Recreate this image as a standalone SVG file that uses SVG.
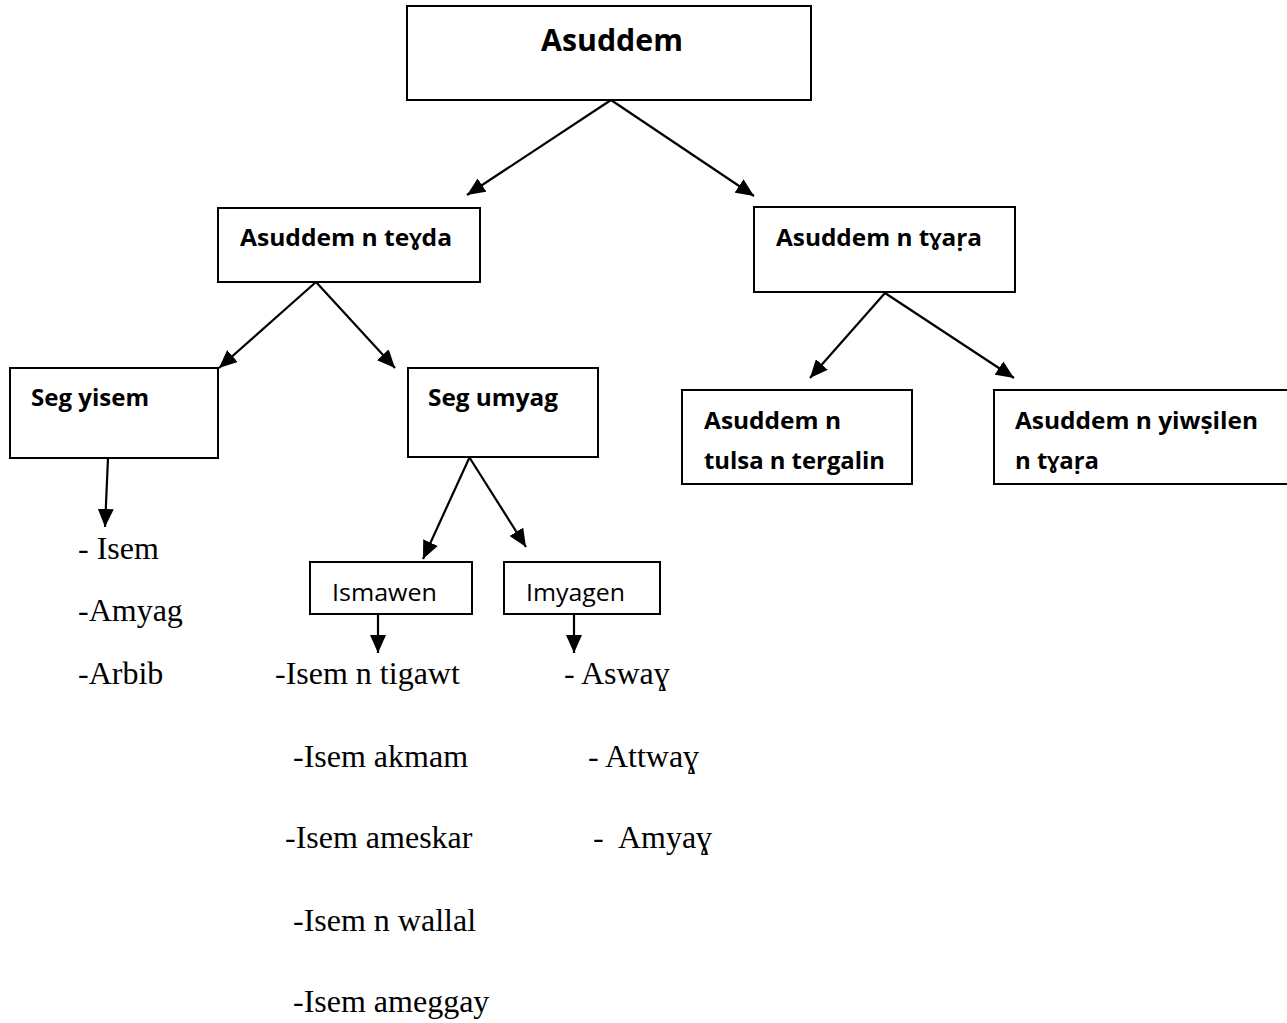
<svg xmlns="http://www.w3.org/2000/svg" width="1287" height="1023" viewBox="0 0 1287 1023">
<style>
.box{fill:#fff;stroke:#000;stroke-width:2}
.b{font-family:"Open Sans",Lato,"DejaVu Sans",sans-serif;font-weight:bold;fill:#000}
.r{font-family:"Open Sans",Lato,"DejaVu Sans",sans-serif;font-size:24px;fill:#000}
.t{font-family:"Liberation Serif","Times New Roman",serif;font-size:32px;fill:#000}
.c{stroke:#000;stroke-width:2.2;fill:none}
</style>
<defs>
<marker id="ah" markerUnits="userSpaceOnUse" markerWidth="19" markerHeight="16" refX="18" refY="8" orient="auto">
<path d="M0,0 L18,8 L0,16 Z" fill="#000"/>
</marker>
</defs>
<rect width="1287" height="1023" fill="#fff"/>
<g id="connectors">
<line class="c" x1="611" y1="100" x2="467" y2="195" marker-end="url(#ah)"/>
<line class="c" x1="611" y1="100" x2="754" y2="196" marker-end="url(#ah)"/>
<line class="c" x1="316" y1="282" x2="219" y2="368" marker-end="url(#ah)"/>
<line class="c" x1="316" y1="282" x2="395" y2="368" marker-end="url(#ah)"/>
<line class="c" x1="885" y1="293" x2="810" y2="378" marker-end="url(#ah)"/>
<line class="c" x1="885" y1="293" x2="1014" y2="378" marker-end="url(#ah)"/>
<line class="c" x1="108" y1="458" x2="105" y2="527" marker-end="url(#ah)"/>
<line class="c" x1="472" y1="452" x2="423" y2="559" marker-end="url(#ah)"/>
<line class="c" x1="466" y1="452" x2="526" y2="547" marker-end="url(#ah)"/>
<line class="c" x1="378" y1="614" x2="378" y2="653" marker-end="url(#ah)"/>
<line class="c" x1="574" y1="614" x2="574" y2="653" marker-end="url(#ah)"/>
</g>
<g id="n-asuddem">
<rect class="box" x="407" y="6" width="404" height="94"/>
<text class="b" x="541" y="51" font-size="30" textLength="142" lengthAdjust="spacingAndGlyphs">Asuddem</text>
</g>
<g id="n-teyda">
<rect class="box" x="218" y="208" width="262" height="74"/>
<text class="b" x="240" y="246" font-size="24" textLength="212" lengthAdjust="spacingAndGlyphs">Asuddem n teɣda</text>
</g>
<g id="n-tyara">
<rect class="box" x="754" y="207" width="261" height="85"/>
<text class="b" x="776" y="246" font-size="24" textLength="206" lengthAdjust="spacingAndGlyphs">Asuddem n tɣaṛa</text>
</g>
<g id="n-segyisem">
<rect class="box" x="10" y="368" width="208" height="90"/>
<text class="b" x="31" y="406" font-size="24" textLength="118" lengthAdjust="spacingAndGlyphs">Seg yisem</text>
</g>
<g id="n-segumyag">
<rect class="box" x="408" y="368" width="190" height="89"/>
<text class="b" x="428" y="406" font-size="24" textLength="130" lengthAdjust="spacingAndGlyphs">Seg umyag</text>
</g>
<g id="n-tulsa">
<rect class="box" x="682" y="390" width="230" height="94"/>
<text class="b" x="704" y="429" font-size="24" textLength="137" lengthAdjust="spacingAndGlyphs">Asuddem n</text>
<text class="b" x="704" y="469" font-size="24" textLength="181" lengthAdjust="spacingAndGlyphs">tulsa n tergalin</text>
</g>
<g id="n-yiwsilen">
<rect class="box" x="994" y="390" width="310" height="94"/>
<text class="b" x="1015" y="429" font-size="24" textLength="243" lengthAdjust="spacingAndGlyphs">Asuddem n yiwṣilen</text>
<text class="b" x="1015" y="469" font-size="24" textLength="84" lengthAdjust="spacingAndGlyphs">n tɣaṛa</text>
</g>
<g id="n-ismawen">
<rect class="box" x="310" y="562" width="162" height="52"/>
<text class="r" x="332" y="601" textLength="105" lengthAdjust="spacingAndGlyphs">Ismawen</text>
</g>
<g id="n-imyagen">
<rect class="box" x="504" y="562" width="156" height="52"/>
<text class="r" x="526" y="601" textLength="99" lengthAdjust="spacingAndGlyphs">Imyagen</text>
</g>
<g id="lists">
<text class="t" x="78" y="559" xml:space="preserve">- Isem</text>
<text class="t" x="78" y="621">-Amyag</text>
<text class="t" x="78" y="684">-Arbib</text>
<text class="t" x="275" y="684">-Isem n tigawt</text>
<text class="t" x="564" y="684" xml:space="preserve">- Aswaɣ</text>
<text class="t" x="293" y="767">-Isem akmam</text>
<text class="t" x="588" y="767" xml:space="preserve">- Attwaɣ</text>
<text class="t" x="285" y="848">-Isem ameskar</text>
<text class="t" x="593" y="848" xml:space="preserve">-  Amyaɣ</text>
<text class="t" x="293" y="931">-Isem n wallal</text>
<text class="t" x="293" y="1012">-Isem ameggay</text>
</g>
</svg>
